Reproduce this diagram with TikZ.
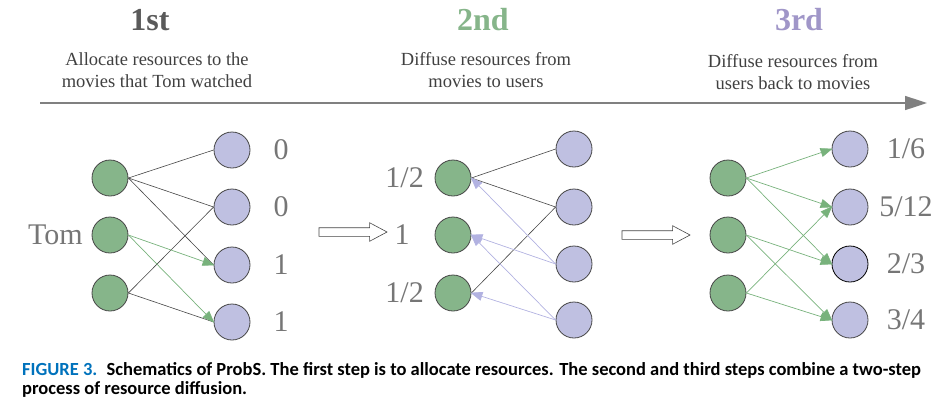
\documentclass[tikz,border=0pt]{standalone}
\usepackage{fontspec}
\setmainfont{Liberation Serif}
\newfontfamily\capfont{Carlito}
\usetikzlibrary{arrows.meta,shapes.arrows}

\definecolor{usergreen}{RGB}{134,181,138}
\definecolor{moviepurple}{RGB}{191,192,225}
\definecolor{edgegray}{RGB}{70,70,70}
\definecolor{labelgray}{RGB}{118,118,118}
\definecolor{stepgray}{RGB}{90,90,90}
\definecolor{notegray}{RGB}{64,64,64}
\definecolor{steppurple}{RGB}{160,150,200}
\definecolor{greenarrow}{RGB}{120,178,124}
\definecolor{purplearrow}{RGB}{178,178,225}
\definecolor{figblue}{RGB}{0,114,188}

\tikzset{
    user/.style={circle, draw=edgegray, line width=0.8pt, fill=usergreen, minimum size=36pt, inner sep=0pt},
    movie/.style={circle, draw=edgegray, line width=0.8pt, fill=moviepurple, minimum size=36pt, inner sep=0pt},
    plain/.style={draw=edgegray, line width=0.6pt},
    give/.style={draw=greenarrow, line width=0.7pt, -{Triangle[length=12pt,width=9pt]}, shorten >=-1pt},
    back/.style={draw=purplearrow, line width=0.7pt, -{Triangle[length=12pt,width=9pt]}, shorten >=-1pt},
    score/.style={text=labelgray, font=\rmfamily\fontsize{30}{30}\selectfont, inner sep=0pt},
    steptitle/.style={font=\rmfamily\fontsize{32}{32}\selectfont\bfseries, inner sep=0pt},
    stepnote/.style={text=notegray, font=\rmfamily\fontsize{18.5}{21.5}\selectfont, align=center, inner sep=0pt},
    hollow/.style={single arrow, draw=edgegray, line width=0.6pt, fill=white, inner sep=4pt,
        single arrow head extend=5pt, single arrow tip angle=56, minimum height=68pt},
    figcap/.style={anchor=base west, inner sep=0pt, font=\capfont\bfseries\fontsize{18.5}{22}\selectfont},
}

\begin{document}
\begin{tikzpicture}[x=1pt, y=-1pt]
            \useasboundingbox (0,0) rectangle (951,408);

            \node[steptitle, text=stepgray] (t1) at (150,20) {1st};
            \node[steptitle, text=usergreen] (t2) at (483,20) {2nd};
            \node[steptitle, text=steppurple] (t3) at (799,20) {3rd};
            \node[stepnote] (n1) at (157,70) {Allocate resources to the\\movies that Tom watched};
            \node[stepnote] (n2) at (486,70) {Diffuse resources from\\movies to users};
            \node[stepnote] (n3) at (793,72) {Diffuse resources from\\users back to movies};

            \coordinate (s) at (40,103);
            \coordinate (e) at (927,103);
            \draw[draw=gray, line width=1.6pt, -{Triangle[length=22pt,width=14pt]}] (s) -- (e);

            \node[user] (a1) at (110,178) {};
            \node[user] (a2) at (110,235) {};
            \node[user] (a3) at (110,293) {};
            \node[movie] (m1) at (232,150) {};
            \node[movie] (m2) at (232,207) {};
            \node[movie] (m3) at (232,265) {};
            \node[movie] (m4) at (232,322) {};
            \node[score, anchor=east] (tom) at (83,235) {Tom};
            \node[score] (v1) at (281,150) {0};
            \node[score] (v2) at (281,207) {0};
            \node[score] (v3) at (281,265) {1};
            \node[score] (v4) at (281,322) {1};

            \draw[plain] (a1.east) -- (m1.west);
            \draw[plain] (a1.east) -- (m2.west);
            \draw[plain] (a1.east) -- (m3.west);
            \draw[plain] (a3.east) -- (m2.west);
            \draw[plain] (a3.east) -- (m4.west);
            \draw[give] (a2.east) -- (m3.west);
            \draw[give] (a2.east) -- (m4.west);

            \node[hollow] (h1) at (349,232) {};

            \node[user] (b1) at (453,178) {};
            \node[user] (b2) at (453,235) {};
            \node[user] (b3) at (453,293) {};
            \node[movie] (k1) at (574,149) {};
            \node[movie] (k2) at (574,207) {};
            \node[movie] (k3) at (574,264) {};
            \node[movie] (k4) at (574,320) {};
            \node[score, anchor=east] (w1) at (424,178) {1/2};
            \node[score] (w2) at (402,235) {1};
            \node[score, anchor=east] (w3) at (424,293) {1/2};

            \draw[plain] (b1.east) -- (k1.west);
            \draw[plain] (b1.east) -- (k2.west);
            \draw[plain] (b3.east) -- (k2.west);
            \draw[back] (k3.west) -- (b1.east);
            \draw[back] (k3.west) -- (b2.east);
            \draw[back] (k4.west) -- (b2.east);
            \draw[back] (k4.west) -- (b3.east);

            \node[hollow] (h2) at (652,235) {};

            \node[user] (c1) at (728,178) {};
            \node[user] (c2) at (728,235) {};
            \node[user] (c3) at (728,293) {};
            \node[movie] (r1) at (850,149) {};
            \node[movie] (r2) at (850,207) {};
            \node[movie, draw=black] (r3) at (850,264) {};
            \node[movie] (r4) at (850,320) {};
            \node[score] (x1) at (906,149) {1/6};
            \node[score] (x2) at (906,207) {5/12};
            \node[score] (x3) at (906,264) {2/3};
            \node[score] (x4) at (906,320) {3/4};

            \draw[give] (c1.east) -- (r1.west);
            \draw[give] (c1.east) -- (r2.west);
            \draw[give] (c1.east) -- (r3.west);
            \draw[give] (c2.east) -- (r3.west);
            \draw[give] (c2.east) -- (r4.west);
            \draw[give] (c3.east) -- (r2.west);
            \draw[give] (c3.east) -- (r4.west);

            \node[figcap] (cap1) at (22,375)
                {\textcolor{figblue}{FIGURE 3.}\hspace{0.5em}Schematics of ProbS. The first step is to allocate resources. The second and third steps combine a two-step};
            \node[figcap] (cap2) at (22,394) {process of resource diffusion.};
\end{tikzpicture}
\end{document}
